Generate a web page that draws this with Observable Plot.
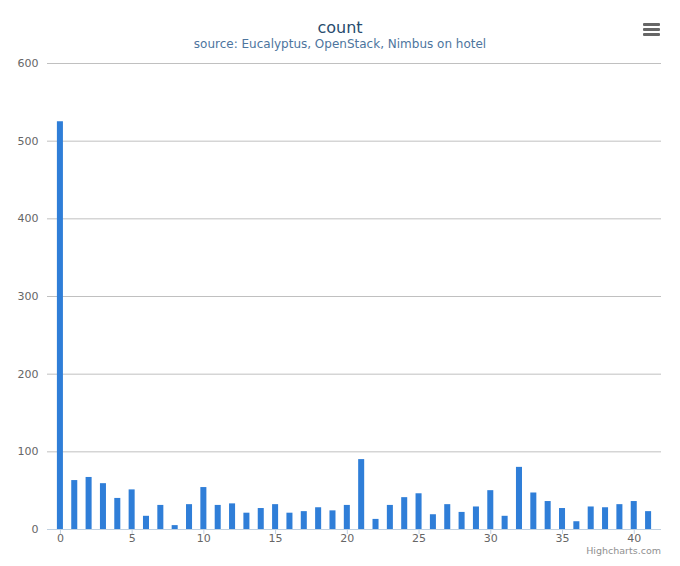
<!DOCTYPE html>
<html>
<head>
<meta charset="utf-8">
<script src="https://cdn.jsdelivr.net/npm/d3@7"></script>
<script src="https://cdn.jsdelivr.net/npm/@observablehq/plot@0.6"></script>
<style>
  html, body { margin: 0; padding: 0; background: #fff; }
  body { width: 680px; height: 566px; position: relative; overflow: hidden; font-family: "DejaVu Sans", Verdana, sans-serif; }
  #chart { position: absolute; left: 0; top: 0; }
  .title { position: absolute; left: 0; width: 680px; text-align: center; line-height: 1.2; }
  #t1 { top: 18px; font-size: 16px; color: #274b6d; }
  #t2 { top: 37px; font-size: 12px; color: #4d759e; }
  #credit { position: absolute; right: 19px; top: 546px; font-size: 9.5px; color: #909090; line-height: 10px; }
  .menu { position: absolute; left: 643px; width: 17px; height: 3px; background: #666; border-radius: 1px; }
</style>
</head>
<body>
<div id="chart"></div>
<div class="title" id="t1">count</div>
<div class="title" id="t2">source: Eucalyptus, OpenStack, Nimbus on hotel</div>
<div id="credit">Highcharts.com</div>
<div class="menu" style="top:23px"></div>
<div class="menu" style="top:28px"></div>
<div class="menu" style="top:33px"></div>
<script>
const categories = d3.range(0, 42);
const counts = [525, 63, 67, 59, 40, 51, 17, 31, 5, 32, 54, 31, 33, 21, 27, 32, 21, 23, 28, 24, 31,
                90, 13, 31, 41, 46, 19, 32, 22, 29, 50, 17, 80, 47, 36, 27, 10, 29, 28, 32, 36, 23];
const xTicks = [0, 5, 10, 15, 20, 25, 30, 35, 40];
const yTicks = [0, 100, 200, 300, 400, 500, 600];

const data = categories.map((c, i) => ({x: c, y: counts[i]}));
const halfWidth = 0.21;

const chart = Plot.plot({
  width: 680,
  height: 566,
  marginTop: 63,
  marginBottom: 37,
  marginLeft: 47,
  marginRight: 19,
  style: {fontFamily: "DejaVu Sans, Verdana, sans-serif", fontSize: "11px", background: "#fff", overflow: "visible"},
  x: {domain: [-0.9, 41.9]},
  y: {domain: [0, 600]},
  marks: [
    Plot.gridY(yTicks, {stroke: "#C0C0C0", strokeOpacity: 1, strokeWidth: 1}),
    Plot.rectY(data, {x1: d => d.x - halfWidth, x2: d => d.x + halfWidth, y: "y", fill: "#2f7ed8"}),
    Plot.ruleY([0], {stroke: "#C0D0E0", strokeWidth: 1}),
    Plot.axisX(xTicks, {tickSize: 5, stroke: "#C0D0E0", color: "#666", tickPadding: 0, fontSize: 11, label: null}),
    Plot.axisY(yTicks, {tickSize: 0, tickPadding: 9, color: "#666", fontSize: 11, label: null})
  ]
});
document.getElementById("chart").appendChild(chart);
</script>
</body>
</html>
